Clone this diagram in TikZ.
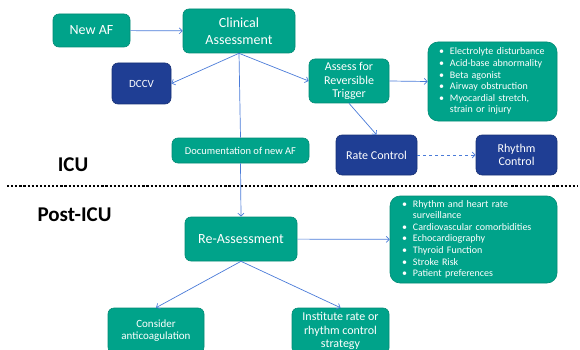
\documentclass[tikz,border=0pt]{standalone}
\usepackage{fontspec}
\setmainfont{Carlito}
\usepackage{xcolor}
\usetikzlibrary{positioning,arrows.meta}

\definecolor{afteal}{HTML}{00A38A}
\definecolor{afblue}{HTML}{1F3E94}
\definecolor{linkblue}{HTML}{4A7BD8}

\tikzset{
  greenbox/.style={draw=afteal!85!black, fill=afteal, rounded corners=6pt,
    text=white, align=center, line width=0.6pt, inner sep=2pt},
  bluebox/.style={greenbox, draw=afblue!80!black, fill=afblue},
  listbox/.style={greenbox, rounded corners=10pt, align=left,
    font=\fontsize{10}{11.6}\selectfont},
  flow/.style={draw=linkblue, line width=0.7pt,
    -{Straight Barb[length=3pt,width=6pt]}},
  flowline/.style={draw=linkblue, line width=0.7pt},
  separator/.style={line width=2.4pt, dash pattern=on 2.2pt off 1.9pt},
  zonelabel/.style={font=\fontsize{21}{24}\selectfont\bfseries}
}

\begin{document}
\begin{tikzpicture}[x=1pt,y=-1pt]
    \clip (0,0) rectangle (580,350);

    % ICU part
    \node[greenbox, minimum width=77, minimum height=33,
      font=\fontsize{14}{16}\selectfont] (newaf) at (91.5,30.5) {New AF};
    \node[greenbox, minimum width=112, minimum height=44,
      font=\fontsize{14}{17.3}\selectfont] (clinical) at (239,31) {Clinical\\Assessment};
    \node[bluebox, minimum width=59, minimum height=41,
      font=\fontsize{11}{13}\selectfont] (dccv) at (141.5,83.5) {DCCV};
    \node[greenbox, minimum width=137, minimum height=25,
      font=\fontsize{10.5}{12}\selectfont] (doc) at (240.5,150.5) {Documentation of new AF};
    \node[greenbox, minimum width=80, minimum height=44,
      font=\fontsize{12}{13.7}\selectfont] (trigger) at (349,81) {Assess for\\Reversible\\Trigger};
    \node[listbox, minimum height=79, inner xsep=11pt, text width=107pt] (causes) at (492.5,81.5) {%
      \begin{tabular}{@{}l@{\hspace{6pt}}l@{}}
      \textbullet & Electrolyte disturbance\\
      \textbullet & Acid-base abnormality\\
      \textbullet & Beta agonist\\
      \textbullet & Airway obstruction\\
      \textbullet & Myocardial stretch,\\
                  & strain or injury
      \end{tabular}};
    \node[bluebox, minimum width=81, minimum height=40,
      font=\fontsize{12}{14}\selectfont] (rate) at (376.5,155) {Rate Control};
    \node[bluebox, minimum width=81, minimum height=40,
      font=\fontsize{12}{13.3}\selectfont] (rhythm) at (516.5,155) {Rhythm\\Control};

    \node[zonelabel] (icu) at (73,165) {ICU};
    \coordinate (sepl) at (7,186);
    \coordinate (sepr) at (578,186);
    \draw[separator] (sepl) -- (sepr);
    \node[zonelabel] (posticu) at (74.5,215) {Post-ICU};

    % Post-ICU part
    \node[greenbox, minimum width=112, minimum height=44,
      font=\fontsize{14}{16}\selectfont] (reassess) at (241,239) {Re-Assessment};
    \node[listbox, minimum height=87, inner xsep=12pt, text width=143pt] (checks) at (473.5,239.5) {%
      \begin{tabular}{@{}l@{\hspace{6pt}}l@{}}
      \textbullet & Rhythm and heart rate\\
                  & surveillance\\
      \textbullet & Cardiovascular comorbidities\\
      \textbullet & Echocardiography\\
      \textbullet & Thyroid Function\\
      \textbullet & Stroke Risk\\
      \textbullet & Patient preferences
      \end{tabular}};
    \node[greenbox, minimum width=96, minimum height=45,
      font=\fontsize{11}{12.7}\selectfont] (consider) at (156,330.5) {Consider\\anticoagulation};
    \node[greenbox, minimum width=97, minimum height=46,
      font=\fontsize{12}{13.3}\selectfont] (institute) at (340.5,331) {Institute rate or\\rhythm control\\strategy};

    % connectors
    \draw[flow] (newaf) -- (clinical);
    \draw[flow] (clinical.south) -- (dccv.east);
    \draw[flow] (clinical.south) -- (trigger.west);
    \draw[flowline] (clinical.south) -- (doc.north);
    \draw[flow] (doc.south) -- (reassess.north);
    \draw[flow] (trigger.east) -- (causes.west);
    \draw[flow] (trigger.south) -- (rate.north);
    \draw[flow, dashed] (rate) -- (rhythm);
    \draw[flow] (reassess) -- (checks);
    \draw[flow] (reassess.south) -- (consider.north);
    \draw[flow] (reassess.south) -- (institute.north);
\end{tikzpicture}
\end{document}
